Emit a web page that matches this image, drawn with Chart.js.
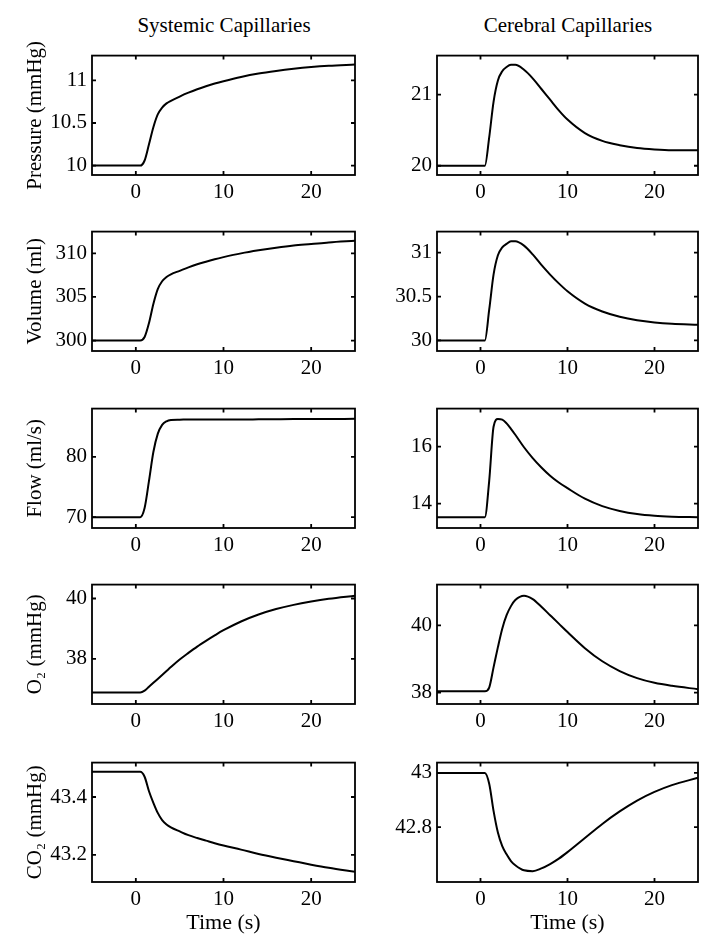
<!DOCTYPE html>
<html>
<head>
<meta charset="utf-8">
<script src="https://cdn.jsdelivr.net/npm/chart.js@4.4.1/dist/chart.umd.min.js"></script>
<style>
  body { margin: 0; background: #fff; width: 714px; height: 940px; position: relative; overflow: hidden; font-family: "Liberation Serif", serif; }
  .panel { position: absolute; }
  .coltitle { position: absolute; top: 12px; width: 300px; text-align: center; font-size: 21px; line-height: 26px; color: #000; }
</style>
</head>
<body>
<div class="coltitle" style="left:74px">Systemic Capillaries</div>
<div class="coltitle" style="left:418px">Cerebral Capillaries</div>
<script>
// time axis (s) shared by every panel
const time = [-5, 0, 0.5, 1, 1.5, 2, 2.5, 3, 3.5, 4, 5, 6, 7, 8, 9, 10, 12, 14, 16, 18, 20, 22, 25];
const xTicks = [0, 10, 20];

// systemic capillaries
const sysPressure = [10, 10, 10, 10.06, 10.25, 10.45, 10.6, 10.68, 10.73, 10.76, 10.81, 10.855, 10.895, 10.93, 10.962, 10.99, 11.04, 11.08, 11.11, 11.135, 11.155, 11.17, 11.185];
const sysVolume = [300, 300, 300, 300.4, 302.0, 304.2, 305.9, 306.8, 307.3, 307.6, 308.0, 308.4, 308.75, 309.05, 309.33, 309.57, 310.0, 310.35, 310.65, 310.9, 311.07, 311.25, 311.44];
const sysFlow = [70, 70, 70, 71.5, 76, 80.8, 83.8, 85.3, 85.9, 86.1, 86.15, 86.2, 86.2, 86.2, 86.2, 86.2, 86.2, 86.22, 86.24, 86.26, 86.27, 86.28, 86.3];
const sysO2 = [36.89, 36.89, 36.89, 36.95, 37.08, 37.21, 37.34, 37.47, 37.6, 37.73, 37.98, 38.2, 38.41, 38.6, 38.78, 38.95, 39.24, 39.47, 39.65, 39.79, 39.9, 39.99, 40.09];
const sysCO2 = [43.487, 43.487, 43.487, 43.47, 43.42, 43.38, 43.345, 43.32, 43.305, 43.295, 43.281, 43.268, 43.258, 43.249, 43.24, 43.232, 43.218, 43.203, 43.19, 43.178, 43.166, 43.155, 43.141];

// cerebral capillaries
const cerPressure = [20, 20, 20, 20.4, 20.9, 21.2, 21.33, 21.39, 21.42, 21.42, 21.35, 21.23, 21.08, 20.93, 20.78, 20.65, 20.46, 20.35, 20.29, 20.25, 20.23, 20.22, 20.22];
const cerVolume = [30, 30, 30, 30.35, 30.75, 30.97, 31.06, 31.1, 31.13, 31.13, 31.08, 30.98, 30.86, 30.75, 30.65, 30.56, 30.42, 30.33, 30.27, 30.23, 30.205, 30.19, 30.18];
const cerFlow = [13.52, 13.52, 13.52, 14.8, 16.7, 16.97, 16.95, 16.82, 16.63, 16.42, 15.98, 15.6, 15.27, 14.98, 14.74, 14.54, 14.17, 13.91, 13.74, 13.63, 13.57, 13.54, 13.52];
const cerO2 = [38.04, 38.04, 38.04, 38.15, 38.75, 39.35, 39.9, 40.3, 40.57, 40.75, 40.88, 40.78, 40.55, 40.3, 40.05, 39.8, 39.32, 38.93, 38.64, 38.43, 38.29, 38.2, 38.1];
const cerCO2 = [43, 43, 43, 42.96, 42.86, 42.78, 42.73, 42.70, 42.675, 42.66, 42.641, 42.638, 42.648, 42.664, 42.684, 42.708, 42.76, 42.812, 42.858, 42.898, 42.93, 42.955, 42.982];

// y tick labels per panel
const sysPressureTicks = [10, 10.5, 11];
const sysVolumeTicks = [300, 305, 310];
const sysFlowTicks = [70, 80];
const sysO2Ticks = [38, 40];
const sysCO2Ticks = [43.2, 43.4];
const cerPressureTicks = [20, 21];
const cerVolumeTicks = [30, 30.5, 31];
const cerFlowTicks = [14, 16];
const cerO2Ticks = [38, 40];
const cerCO2Ticks = [42.8, 43];

const panels = [
  { row: 0, col: 0, values: sysPressure, ticks: sysPressureTicks, min: 9.89, max: 11.29, label: 'Pressure (mmHg)' },
  { row: 1, col: 0, values: sysVolume, ticks: sysVolumeTicks, min: 298.8, max: 312.5, label: 'Volume (ml)' },
  { row: 2, col: 0, values: sysFlow, ticks: sysFlowTicks, min: 68.2, max: 88.0, label: 'Flow (ml/s)' },
  { row: 3, col: 0, values: sysO2, ticks: sysO2Ticks, min: 36.51, max: 40.46, label: 'O\u2082 (mmHg)' },
  { row: 4, col: 0, values: sysCO2, ticks: sysCO2Ticks, min: 43.106, max: 43.519, label: 'CO\u2082 (mmHg)' },
  { row: 0, col: 1, values: cerPressure, ticks: cerPressureTicks, min: 19.87, max: 21.55 },
  { row: 1, col: 1, values: cerVolume, ticks: cerVolumeTicks, min: 29.88, max: 31.24 },
  { row: 2, col: 1, values: cerFlow, ticks: cerFlowTicks, min: 13.14, max: 17.34 },
  { row: 3, col: 1, values: cerO2, ticks: cerO2Ticks, min: 37.66, max: 41.21 },
  { row: 4, col: 1, values: cerCO2, ticks: cerCO2Ticks, min: 42.598, max: 43.038 },
];

const FONT = 'Liberation Serif';
const rowTop = [48, 224, 401, 577, 755];
const plotH = 127;
const cols = [
  { left: 0, width: 360, axisW: 92, padRight: 5 },
  { left: 357, width: 345, axisW: 80, padRight: 4 },
];

// matlab style box with inward ticks
const framePlugin = {
  id: 'frame',
  afterDatasetsDraw(chart) {
    const { ctx, chartArea: a, scales: { x, y } } = chart;
    const len = 4;
    ctx.save();
    ctx.strokeStyle = '#000';
    ctx.lineWidth = 1.8;
    ctx.strokeRect(a.left, a.top, a.right - a.left, a.bottom - a.top);
    ctx.beginPath();
    x.ticks.forEach(t => {
      const px = x.getPixelForValue(t.value);
      ctx.moveTo(px, a.bottom); ctx.lineTo(px, a.bottom - len);
      ctx.moveTo(px, a.top); ctx.lineTo(px, a.top + len);
    });
    y.ticks.forEach(t => {
      const py = y.getPixelForValue(t.value);
      ctx.moveTo(a.left, py); ctx.lineTo(a.left + len, py);
      ctx.moveTo(a.right, py); ctx.lineTo(a.right - len, py);
    });
    ctx.stroke();
    ctx.restore();
  }
};

panels.forEach(p => {
  const c = cols[p.col];
  const bottomRow = p.row === 4;
  const xH = bottomRow ? 58 : 40;

  const div = document.createElement('div');
  div.className = 'panel';
  div.style.left = c.left + 'px';
  div.style.top = (rowTop[p.row] - 10) + 'px';
  div.style.width = c.width + 'px';
  div.style.height = (10 + plotH + xH) + 'px';
  const canvas = document.createElement('canvas');
  div.appendChild(canvas);
  document.body.appendChild(div);

  new Chart(canvas, {
    type: 'line',
    data: {
      datasets: [{
        data: time.map((t, i) => ({ x: t, y: p.values[i] })),
        borderColor: '#000',
        borderWidth: 2,
        pointRadius: 0,
        fill: false,
        cubicInterpolationMode: 'monotone',
      }],
    },
    options: {
      responsive: true,
      maintainAspectRatio: false,
      animation: false,
      layout: { padding: { top: 10, right: c.padRight, left: 0, bottom: 0 } },
      plugins: { legend: { display: false }, tooltip: { enabled: false } },
      scales: {
        x: {
          type: 'linear',
          min: -5,
          max: 25,
          afterBuildTicks: s => { s.ticks = xTicks.map(v => ({ value: v })); },
          afterFit: s => { s.height = xH; },
          grid: { display: false, drawTicks: false, tickLength: 0 },
          border: { display: false },
          ticks: { color: '#000', font: { family: FONT, size: 21 }, padding: 5, maxRotation: 0, autoSkip: false },
          title: {
            display: bottomRow,
            text: 'Time (s)',
            color: '#000',
            font: { family: FONT, size: 22 },
            padding: { top: 0, bottom: 4 },
          },
        },
        y: {
          type: 'linear',
          min: p.min,
          max: p.max,
          afterBuildTicks: s => { s.ticks = p.ticks.map(v => ({ value: v })); },
          afterFit: s => { s.width = c.axisW; },
          grid: { display: false, drawTicks: false, tickLength: 0 },
          border: { display: false },
          ticks: { color: '#000', font: { family: FONT, size: 21 }, padding: 5, callback: v => String(v) },
          title: {
            display: !!p.label,
            text: p.label || '',
            color: '#000',
            font: { family: FONT, size: 21 },
            padding: { top: 23, bottom: 0 },
          },
        },
      },
    },
    plugins: [framePlugin],
  });
});
</script>
</body>
</html>
